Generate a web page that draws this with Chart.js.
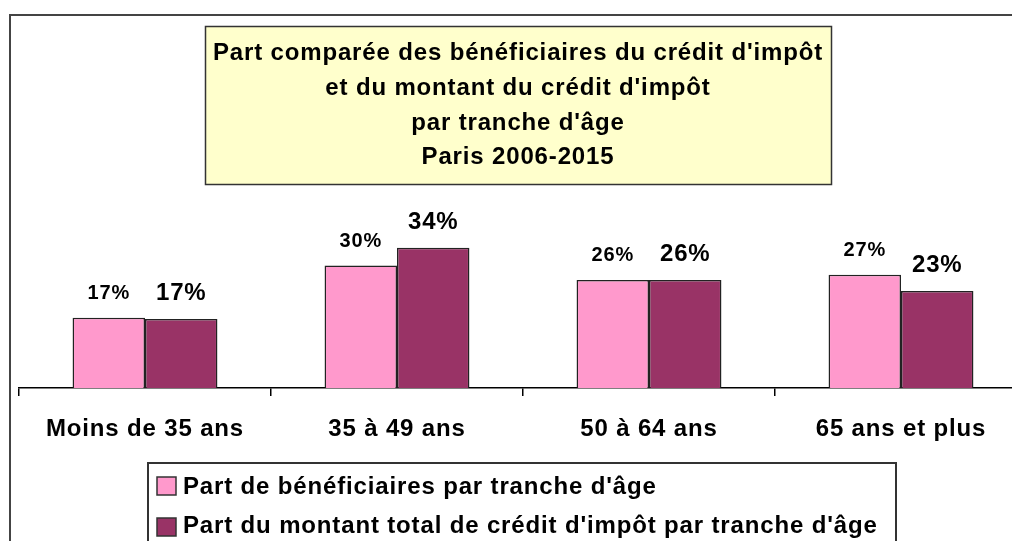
<!DOCTYPE html>
<html>
<head>
<meta charset="utf-8">
<script src="https://cdn.jsdelivr.net/npm/chart.js@4.4.1/dist/chart.umd.min.js"></script>
<style>
  html, body { margin: 0; padding: 0; background: #fff; overflow: hidden; }
  #wrap { width: 1040px; height: 541px; }
</style>
</head>
<body>
<div id="wrap"><canvas id="mainChart" width="1040" height="541"></canvas></div>
<script>
// data
const categories = ['Moins de 35 ans', '35 à 49 ans', '50 à 64 ans', '65 ans et plus'];
const beneficiaires = [16.9, 29.5, 26.0, 27.3];
const montant = [16.6, 33.8, 26.0, 23.4];
const seriesNames = [
    "Part de bénéficiaires par tranche d'âge",
    "Part du montant total de crédit d'impôt par tranche d'âge"
];
const titleLines = [
    "Part comparée des bénéficiaires du crédit d'impôt",
    "et du montant du crédit d'impôt",
    "par tranche d'âge",
    "Paris 2006-2015"
];

const FONT = "'Liberation Sans', Arial, sans-serif";
const PINK = '#FF99CC', MAROON = '#993366';
const SPACING = '0.85px';

const framePlugin = {
    id: 'framePlugin',
    // canvas resize wipes the context state, so set the spacing again each pass
    beforeUpdate: (chart) => { chart.ctx.letterSpacing = SPACING; },
    beforeLayout: (chart) => { chart.ctx.letterSpacing = SPACING; },
    beforeDraw: (chart) => {
        const ctx = chart.ctx;
        ctx.letterSpacing = SPACING;
        ctx.save();
        ctx.fillStyle = '#fff'; ctx.fillRect(0, 0, chart.width, chart.height);
        ctx.strokeStyle = '#444'; ctx.lineWidth = 2;
        ctx.strokeRect(10, 15, chart.width + 20, chart.height + 20);
        ctx.restore();
    },
    afterDraw: (chart) => {
        const ctx = chart.ctx; ctx.save();
        ctx.letterSpacing = SPACING;
        // title box
        ctx.fillStyle = '#FFFFCC'; ctx.fillRect(205, 26, 626, 158);
        ctx.strokeStyle = '#333'; ctx.lineWidth = 1.5; ctx.strokeRect(205.5, 26.5, 626, 158);
        ctx.fillStyle = '#000'; ctx.font = 'bold 24px ' + FONT;
        ctx.textAlign = 'center'; ctx.textBaseline = 'alphabetic';
        [60, 95, 130, 164].forEach((y, i) => ctx.fillText(titleLines[i], 518, y));

        // value labels above the bars
        chart.data.datasets.forEach((ds, di) => {
            const meta = chart.getDatasetMeta(di);
            ctx.font = 'bold ' + (di === 0 ? 20 : 24) + 'px ' + FONT;
            meta.data.forEach((bar, i) => {
                ctx.fillText(Math.round(ds.data[i]) + '%', bar.x, bar.y - 19);
            });
        });

        // legend box
        ctx.fillStyle = '#fff'; ctx.fillRect(148, 463, 748, 100);
        ctx.strokeStyle = '#333'; ctx.lineWidth = 2; ctx.strokeRect(148, 463, 748, 100);
        ctx.textAlign = 'left'; ctx.font = 'bold 24px ' + FONT;
        chart.data.datasets.forEach((ds, di) => {
            const top = 477 + di * 41;
            ctx.fillStyle = ds.backgroundColor; ctx.fillRect(157, top, 19, 18);
            ctx.strokeStyle = '#333'; ctx.lineWidth = 1.5; ctx.strokeRect(157, top, 19, 18);
            ctx.fillStyle = '#000'; ctx.fillText(ds.label, 183, 494 + di * 39);
        });
        ctx.restore();
    }
};

new Chart(document.getElementById('mainChart'), {
    type: 'bar',
    data: {
        labels: categories,
        datasets: [
            { label: seriesNames[0], data: beneficiaires, backgroundColor: PINK, borderColor: '#222', borderWidth: 1.5 },
            { label: seriesNames[1], data: montant, backgroundColor: MAROON, borderColor: '#222', borderWidth: 1.5 }
        ]
    },
    options: {
        responsive: false,
        animation: false,
        layout: { padding: { left: 19, right: 13, top: 222, bottom: 0 } },
        categoryPercentage: 0.575,
        barPercentage: 1.0,
        scales: {
            x: {
                grid: { display: true, drawOnChartArea: false, drawTicks: true, tickLength: 8, color: '#000', lineWidth: 1.5, offset: true },
                border: { display: true, color: '#000', width: 1.5 },
                ticks: { color: '#000', padding: 19, font: { size: 24, weight: 'bold', family: FONT }, maxRotation: 0 },
                afterFit: (s) => { s.height = 153; }
            },
            y: { display: false, min: 0, max: 40 }
        },
        plugins: {
            legend: { display: false },
            title: { display: false },
            tooltip: { enabled: false }
        }
    },
    plugins: [framePlugin]
});
</script>
</body>
</html>
